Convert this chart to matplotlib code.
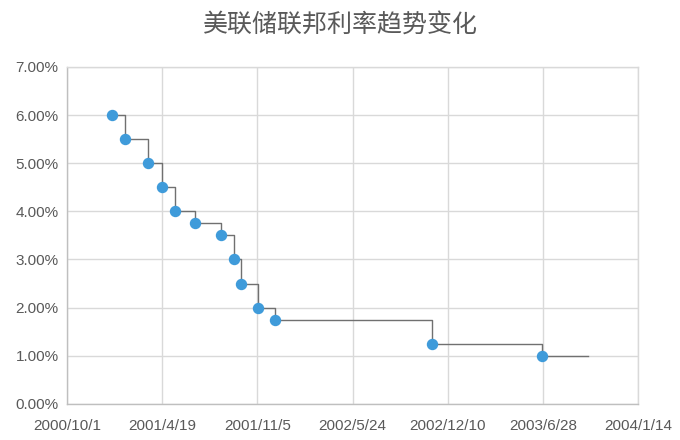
import datetime as dt
import matplotlib
matplotlib.use("Agg")
import matplotlib.pyplot as plt
from matplotlib.ticker import FuncFormatter, MultipleLocator

plt.rcParams['font.family'] = ['Liberation Sans', 'Noto Sans CJK SC', 'DejaVu Sans']

# rate change dates and target rates (%)
dates = ["2001-01-03", "2001-01-31", "2001-03-20", "2001-04-18", "2001-05-15",
         "2001-06-27", "2001-08-21", "2001-09-17", "2001-10-02", "2001-11-06",
         "2001-12-11", "2002-11-06", "2003-06-25"]
rates = [6.00, 5.50, 5.00, 4.50, 4.00, 3.75, 3.50, 3.00, 2.50, 2.00, 1.75, 1.25, 1.00]
endDate = "2003-10-01"

xStart = dt.date(2000, 10, 1)
xStepDays = 200
nTicks = 7

textColor = "#595959"
gridColor = "#D9D9D9"

changeDates = [dt.date.fromisoformat(d) for d in dates]
lineDates = changeDates + [dt.date.fromisoformat(endDate)]
lineRates = rates + [rates[-1]]

fig = plt.figure(figsize=(6.8, 4.4), dpi=100)
ax = fig.add_axes([0.0985, 0.082, 0.84, 0.766])

ax.step(lineDates, lineRates, where="post", color="#707070", linewidth=1.0, zorder=2)
ax.plot(changeDates, rates, linestyle="none", marker="o", markersize=7.2,
        color="#3F9BDA", zorder=3)

tickDates = [xStart + dt.timedelta(days=xStepDays * i) for i in range(nTicks)]
ax.set_xlim(tickDates[0], tickDates[-1])
ax.set_xticks(tickDates)
ax.set_xticklabels([f"{d.year}/{d.month}/{d.day}" for d in tickDates])

ax.set_ylim(0, 7)
ax.yaxis.set_major_locator(MultipleLocator(1))
ax.yaxis.set_major_formatter(FuncFormatter(lambda v, p: f"{v:.2f}%"))

ax.grid(True, color=gridColor, linewidth=1.0, zorder=0)
ax.set_axisbelow(True)
for s in ax.spines.values():
    s.set_color(gridColor)
    s.set_linewidth(1.0)
ax.spines["left"].set_color("#BFBFBF")
ax.spines["bottom"].set_color("#BFBFBF")

ax.tick_params(axis="both", length=0, labelsize=11, colors=textColor)
ax.tick_params(axis="x", pad=11)
ax.tick_params(axis="y", pad=6)

fig.text(0.5, 0.943, "美联储联邦利率趋势变化", ha="center", va="center",
         fontsize=18, color=textColor, family=['Noto Sans CJK SC', 'DejaVu Sans'])

fig.savefig("out.png", dpi=100)
